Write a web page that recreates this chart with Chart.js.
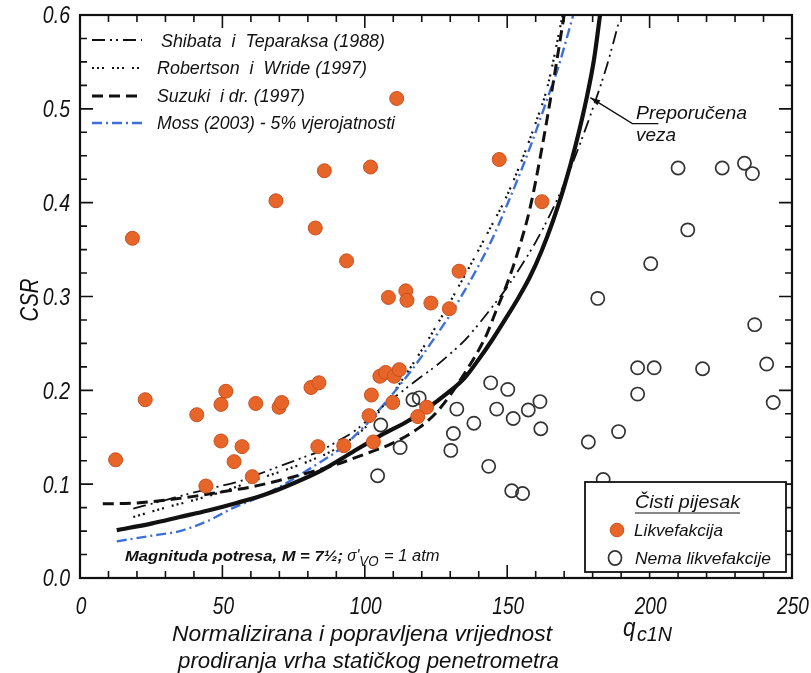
<!DOCTYPE html>
<html><head><meta charset="utf-8">
<script src="https://cdn.jsdelivr.net/npm/chart.js@4/dist/chart.umd.min.js"></script>
<style>html,body{margin:0;padding:0;background:#fff}</style>
</head><body>
<canvas id="c" width="811" height="673"></canvas>
<script>
// ---- data ----
const liqX = [12.5, 18.4, 22.9, 41.0, 44.2, 51.2, 49.5, 49.5, 56.9, 54.1, 61.7, 69.9, 70.8, 60.5, 81.1, 83.9, 83.5, 92.6, 68.8, 82.6, 85.8, 93.6, 102.0, 111.2, 108.3, 114.4, 114.8, 123.2, 129.7, 133.1, 147.2, 162.2, 105.3, 107.3, 110.3, 112.1, 102.3, 109.8, 101.5, 121.7, 118.6, 103.0];
const liqY = [0.126, 0.362, 0.190, 0.174, 0.098, 0.199, 0.185, 0.146, 0.140, 0.124, 0.186, 0.182, 0.187, 0.108, 0.203, 0.208, 0.140, 0.141, 0.402, 0.373, 0.434, 0.338, 0.438, 0.511, 0.299, 0.306, 0.296, 0.293, 0.287, 0.327, 0.446, 0.401, 0.215, 0.219, 0.215, 0.222, 0.195, 0.187, 0.173, 0.182, 0.172, 0.145];

const nonX = [105.6, 112.4, 104.5, 116.9, 119.1, 132.3, 131.1, 130.2, 138.3, 144.2, 150.2, 146.3, 152.1, 157.4, 161.5, 161.8, 143.5, 151.6, 155.4, 210.0, 225.5, 233.3, 236.1, 213.4, 200.4, 181.8, 236.9, 195.8, 201.6, 218.6, 241.1, 195.8, 243.4, 189.1, 178.5, 183.7];
const nonY = [0.163, 0.139, 0.109, 0.190, 0.192, 0.180, 0.154, 0.136, 0.165, 0.208, 0.201, 0.180, 0.170, 0.179, 0.188, 0.159, 0.119, 0.093, 0.090, 0.437, 0.437, 0.442, 0.431, 0.371, 0.335, 0.298, 0.270, 0.224, 0.224, 0.223, 0.228, 0.196, 0.187, 0.156, 0.145, 0.105];

// Preporučena veza (recommended)
const recX = [12.9, 25, 35, 45, 55, 65, 75, 85, 95, 105, 115, 122, 129, 135, 140, 145, 150, 154, 158, 162, 166, 170, 174, 178, 180.5, 182.6];
const recY = [0.051, 0.058, 0.065, 0.072, 0.080, 0.089, 0.101, 0.115, 0.133, 0.151, 0.167, 0.181, 0.197, 0.213, 0.233, 0.255, 0.279, 0.299, 0.321, 0.348, 0.380, 0.417, 0.461, 0.513, 0.553, 0.600];
// Suzuki i dr. (1997)
const suzX = [8, 20, 30, 40, 50, 60, 70, 80, 90, 100, 110, 119, 125, 130, 135, 140, 143, 146, 150, 154, 158, 162, 166, 170];
const suzY = [0.079, 0.080, 0.083, 0.087, 0.092, 0.097, 0.104, 0.112, 0.121, 0.132, 0.144, 0.160, 0.176, 0.195, 0.218, 0.243, 0.261, 0.284, 0.314, 0.350, 0.394, 0.455, 0.525, 0.600];
// Moss (2003)
const mosX = [12.9, 25, 35, 45, 54, 62, 70, 82, 91, 100, 105, 110, 114, 119, 124.5, 130.5, 135, 140, 145, 150, 155, 159, 164, 168, 173.2];
const mosY = [0.039, 0.045, 0.050, 0.061, 0.075, 0.085, 0.097, 0.119, 0.137, 0.162, 0.179, 0.197, 0.212, 0.232, 0.256, 0.283, 0.306, 0.333, 0.363, 0.398, 0.435, 0.467, 0.510, 0.545, 0.600];
// Robertson i Wride (1997)
const robX = [18.7, 30, 40, 50, 62, 70, 80, 90, 100, 106, 112, 120, 125, 131, 137, 143, 150, 156, 160, 164, 169.5];
const robY = [0.065, 0.075, 0.083, 0.092, 0.105, 0.113, 0.124, 0.138, 0.160, 0.181, 0.206, 0.243, 0.268, 0.300, 0.333, 0.367, 0.408, 0.452, 0.485, 0.522, 0.600];
// Shibata i Teparaksa (1988)
const shiX = [18.7, 30, 38.6, 48, 56, 63, 70, 77, 84, 90, 97, 103, 108, 114, 120, 125, 130, 135, 139, 144, 150, 155, 160, 165, 170, 175, 180, 185, 189];
const shiY = [0.074, 0.083, 0.090, 0.097, 0.103, 0.111, 0.119, 0.127, 0.135, 0.145, 0.158, 0.174, 0.187, 0.201, 0.215, 0.226, 0.239, 0.253, 0.267, 0.286, 0.310, 0.333, 0.358, 0.387, 0.420, 0.458, 0.500, 0.546, 0.590];

const xTicks = [0, 50, 100, 150, 200, 250];
const yTicks = [0.0, 0.1, 0.2, 0.3, 0.4, 0.5, 0.6];

const legendLabels = ['Shibata  i  Teparaksa (1988)', 'Robertson  i  Wride (1997)', 'Suzuki  i dr. (1997)', 'Moss (2003) - 5% vjerojatnosti'];
const boxTitle = 'Čisti pijesak';
const boxLabels = ['Likvefakcija', 'Nema likvefakcije'];

// ---- styles ----
const ORANGE = '#e8652a', ORANGE_B = '#c9501c', BLUE = '#3e6fd8', INK = '#111';
const FONT = "'Liberation Sans', Arial, sans-serif";
const styles = {
  shi: {borderColor: INK, borderWidth: 1.8, borderDash: [13, 5, 2, 4, 2, 5]},
  rob: {borderColor: INK, borderWidth: 2.2, borderDash: [2, 3, 2, 3, 2, 8]},
  suz: {borderColor: INK, borderWidth: 3, borderDash: [11, 6]},
  mos: {borderColor: BLUE, borderWidth: 2.4, borderDash: [10, 4, 2, 4]},
  rec: {borderColor: INK, borderWidth: 4.2, borderDash: []}
};

const zip = (xs, ys) => xs.map((x, i) => ({x, y: ys[i]}));
function lineDs(label, xs, ys, st) {
  return Object.assign({label, data: zip(xs, ys), showLine: true, pointRadius: 0, pointHoverRadius: 0,
    fill: false, cubicInterpolationMode: 'monotone', borderCapStyle: 'butt'}, st);
}

function txt(ctx, s, x, y, font, o) {
  o = o || {};
  ctx.save();
  ctx.font = font; ctx.fillStyle = o.color || INK; ctx.textBaseline = o.baseline || 'alphabetic'; ctx.textAlign = 'left';
  const w = ctx.measureText(s).width;
  const sx = o.width ? o.width / w : (o.sx || 1);
  let x0 = x;
  if (o.align === 'center') x0 = x - w * sx / 2; else if (o.align === 'right') x0 = x - w * sx;
  ctx.translate(x0, y); ctx.scale(sx, 1); ctx.fillText(s, 0, 0);
  ctx.restore();
  return w * sx;
}

const decor = {
  id: 'decor',
  afterDraw(chart) {
    const ctx = chart.ctx, a = chart.chartArea, xs = chart.scales.x, ys = chart.scales.y;
    ctx.save();
    // frame
    ctx.strokeStyle = INK; ctx.lineWidth = 2.2; ctx.setLineDash([]);
    ctx.strokeRect(a.left, a.top, a.right - a.left, a.bottom - a.top);
    // ticks (inward)
    ctx.lineWidth = 1.6;
    ctx.beginPath();
    for (let v = 0; v <= 250; v += 10) {
      const px = xs.getPixelForValue(v), L = (v % 50 === 0) ? 13 : 7;
      ctx.moveTo(px, a.bottom); ctx.lineTo(px, a.bottom - L);
      ctx.moveTo(px, a.top); ctx.lineTo(px, a.top + L);
    }
    for (let k = 0; k <= 24; k++) {
      const v = k * 0.025, py = ys.getPixelForValue(v), L = (k % 4 === 0) ? 13 : 7;
      ctx.moveTo(a.left, py); ctx.lineTo(a.left + L, py);
      ctx.moveTo(a.right, py); ctx.lineTo(a.right - L, py);
    }
    ctx.stroke();
    // tick labels
    const TF = 'italic 23px ' + FONT;
    xTicks.forEach(v => txt(ctx, String(v), xs.getPixelForValue(v) + 1, 614, TF, {align: 'center', sx: 0.83}));
    yTicks.forEach(v => txt(ctx, v.toFixed(1), 70, ys.getPixelForValue(v) + 2, TF, {align: 'right', sx: 0.85, baseline: 'middle'}));
    // axis titles
    ctx.save(); ctx.translate(31, 300); ctx.rotate(-Math.PI / 2);
    txt(ctx, 'CSR', 0, 0, 'italic 25px ' + FONT, {align: 'center', baseline: 'middle', width: 43});
    ctx.restore();
    txt(ctx, 'Normalizirana i popravljena vrijednost', 172, 641, 'italic 22px ' + FONT, {width: 380});
    txt(ctx, 'prodiranja vrha statičkog penetrometra', 178, 668, 'italic 22px ' + FONT, {width: 381});
    txt(ctx, 'q', 623, 636, 'italic 25px ' + FONT, {sx: 0.9});
    txt(ctx, 'c1N', 637, 641, 'italic 21px ' + FONT, {width: 35});

    // top-left legend
    const rows = [40, 68, 96, 123];
    const keys = ['shi', 'rob', 'suz', 'mos'];
    rows.forEach((ry, i) => {
      const st = styles[keys[i]];
      ctx.save();
      ctx.strokeStyle = st.borderColor; ctx.lineWidth = st.borderWidth; ctx.setLineDash(st.borderDash);
      ctx.beginPath(); ctx.moveTo(92, ry); ctx.lineTo(142, ry); ctx.stroke();
      ctx.restore();
    });
    const LF = 'italic 18px ' + FONT;
    txt(ctx, legendLabels[0], 161, 47, LF, {width: 224});
    txt(ctx, legendLabels[1], 157, 74, LF, {width: 210});
    txt(ctx, legendLabels[2], 157, 102, LF, {width: 148});
    txt(ctx, legendLabels[3], 157, 129, LF, {width: 238});

    // Preporučena veza annotation
    const ax = xs.getPixelForValue(178.5), ay = ys.getPixelForValue(0.513);
    ctx.strokeStyle = INK; ctx.lineWidth = 1.4; ctx.setLineDash([]);
    ctx.beginPath(); ctx.moveTo(ax + 2, ay + 1); ctx.lineTo(ax + 44, ay + 27); ctx.lineTo(ax + 70, ay + 27); ctx.stroke();
    ctx.fillStyle = INK; ctx.beginPath();
    ctx.moveTo(ax + 2, ay + 1); ctx.lineTo(ax + 12, ay + 3.5); ctx.lineTo(ax + 9, ay + 8.5); ctx.closePath(); ctx.fill();
    txt(ctx, 'Preporučena', 636, 119, 'italic 18px ' + FONT, {width: 111});
    txt(ctx, 'veza', 636, 141, 'italic 18px ' + FONT, {width: 40});

    // magnitude note
    let mx = 125;
    mx += txt(ctx, 'Magnituda potresa, M = 7½;', mx, 561, 'italic bold 15.5px ' + FONT, {width: 218});
    mx += txt(ctx, ' σ\'', mx, 561, 'italic 16px ' + FONT, {sx: 0.95});
    mx += txt(ctx, 'VO', mx, 566, 'italic 14px ' + FONT, {sx: 0.95});
    txt(ctx, ' = 1 atm', mx + 1, 561, 'italic 16px ' + FONT, {width: 60});

    // lower-right legend box
    const bx = 585, by = 482, bw = 201, bh = 90;
    ctx.fillStyle = '#fff'; ctx.fillRect(bx, by, bw, bh);
    ctx.strokeStyle = INK; ctx.lineWidth = 1.8; ctx.strokeRect(bx, by, bw, bh);
    const tw = txt(ctx, boxTitle, 635, 508, 'italic 18px ' + FONT, {width: 105});
    ctx.lineWidth = 1.2; ctx.beginPath(); ctx.moveTo(635, 513); ctx.lineTo(635 + tw, 513); ctx.stroke();
    ctx.fillStyle = ORANGE; ctx.strokeStyle = ORANGE_B; ctx.lineWidth = 1;
    ctx.beginPath(); ctx.arc(617, 530, 6.8, 0, Math.PI * 2); ctx.fill(); ctx.stroke();
    txt(ctx, boxLabels[0], 634, 536, 'italic 17px ' + FONT, {width: 89});
    ctx.strokeStyle = '#333'; ctx.lineWidth = 1.7;
    ctx.beginPath(); ctx.ellipse(615, 558, 6.5, 7.2, 0, 0, Math.PI * 2); ctx.stroke();
    txt(ctx, boxLabels[1], 635, 564, 'italic 17px ' + FONT, {width: 136});
    ctx.restore();
  }
};

new Chart(document.getElementById('c'), {
  type: 'scatter',
  data: {
    datasets: [
      {label: 'Likvefakcija', data: zip(liqX, liqY), pointRadius: 7, pointHoverRadius: 7,
       backgroundColor: ORANGE, borderColor: ORANGE_B, borderWidth: 1},
      {label: 'Nema likvefakcije', data: zip(nonX, nonY), pointRadius: 6.6, pointHoverRadius: 6.6,
       backgroundColor: 'rgba(255,255,255,0)', borderColor: '#333', borderWidth: 1.7},
      lineDs('Preporučena veza', recX, recY, styles.rec),
      lineDs(legendLabels[2], suzX, suzY, styles.suz),
      lineDs(legendLabels[0], shiX, shiY, styles.shi),
      lineDs(legendLabels[3], mosX, mosY, styles.mos),
      lineDs(legendLabels[1], robX, robY, styles.rob)
    ]
  },
  options: {
    responsive: false, animation: false, devicePixelRatio: 1,
    layout: {padding: {top: 15, right: 19, left: 0, bottom: 0}},
    plugins: {legend: {display: false}, tooltip: {enabled: false}},
    scales: {
      x: {type: 'linear', min: 0, max: 250, ticks: {display: false, stepSize: 50},
          grid: {display: false}, border: {display: false}, afterFit(s) { s.height = 95; }},
      y: {type: 'linear', min: 0, max: 0.6, ticks: {display: false, stepSize: 0.1},
          grid: {display: false}, border: {display: false}, afterFit(s) { s.width = 80; }}
    }
  },
  plugins: [decor]
});
</script>
</body></html>
